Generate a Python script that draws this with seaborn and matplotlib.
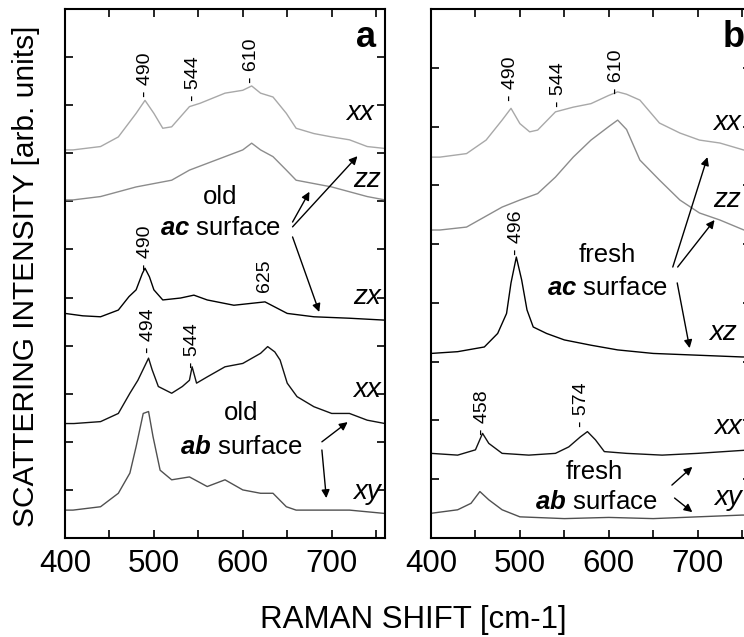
import numpy as np
import pandas as pd
import matplotlib
matplotlib.use('Agg')
import matplotlib.pyplot as plt
import matplotlib.font_manager as fm
import matplotlib.ticker as mticker
import seaborn as sns

# ---- panel a : old surfaces (y in arbitrary offset units, 0..11) ----
a_xx_ac_x = [400, 409, 440, 460, 480, 490, 500, 510, 520, 540, 552, 560, 580, 600, 610, 620, 634, 649, 660, 680, 700, 720, 740, 760]
a_xx_ac_y = [8.07, 8.07, 8.14, 8.34, 8.83, 9.10, 8.83, 8.52, 8.55, 8.97, 9.04, 9.10, 9.25, 9.31, 9.40, 9.25, 9.17, 8.83, 8.52, 8.41, 8.34, 8.28, 8.14, 8.10]

a_zz_ac_x = [400, 409, 440, 460, 480, 500, 520, 540, 560, 580, 600, 610, 620, 634, 649, 660, 680, 700, 720, 740, 760]
a_zz_ac_y = [7.03, 7.03, 7.10, 7.20, 7.30, 7.37, 7.44, 7.65, 7.79, 7.93, 8.07, 8.21, 8.07, 7.93, 7.65, 7.44, 7.37, 7.30, 7.20, 7.10, 7.03]

a_zx_ac_x = [400, 420, 440, 460, 472, 480, 487, 490, 495, 500, 510, 530, 545, 560, 590, 625, 650, 680, 720, 760]
a_zx_ac_y = [4.67, 4.62, 4.60, 4.74, 5.02, 5.16, 5.50, 5.61, 5.43, 5.16, 4.95, 4.99, 5.05, 4.95, 4.84, 4.91, 4.67, 4.60, 4.57, 4.53]

a_xx_ab_x = [400, 410, 440, 460, 473, 482, 494, 498, 505, 520, 532, 540, 543, 548, 560, 580, 600, 620, 628, 636, 642, 650, 661, 680, 700, 720, 740, 760]
a_xx_ab_y = [2.38, 2.38, 2.42, 2.59, 3.01, 3.28, 3.74, 3.50, 3.15, 3.01, 3.15, 3.28, 3.56, 3.22, 3.35, 3.56, 3.63, 3.84, 3.98, 3.87, 3.70, 3.22, 2.94, 2.73, 2.59, 2.59, 2.45, 2.38]

a_xy_ab_x = [400, 409, 440, 460, 473, 480, 488, 494, 499, 507, 520, 540, 560, 580, 600, 620, 634, 649, 660, 680, 700, 720, 760]
a_xy_ab_y = [0.58, 0.58, 0.65, 0.93, 1.35, 1.90, 2.59, 2.63, 2.11, 1.41, 1.21, 1.27, 1.07, 1.21, 1.00, 0.93, 0.93, 0.65, 0.58, 0.58, 0.58, 0.58, 0.51]

# ---- panel b : fresh surfaces (y in arbitrary offset units, 0..9) ----
b_xx_ac_x = [400, 410, 440, 462, 480, 490, 500, 511, 520, 540, 560, 580, 600, 610, 620, 635, 657, 680, 702, 725, 752, 760]
b_xx_ac_y = [6.48, 6.48, 6.54, 6.77, 7.11, 7.31, 7.05, 6.91, 6.94, 7.25, 7.33, 7.39, 7.53, 7.59, 7.55, 7.45, 7.06, 6.89, 6.77, 6.72, 6.60, 6.60]

b_zz_ac_x = [400, 410, 440, 460, 480, 500, 520, 540, 560, 580, 600, 610, 620, 635, 657, 680, 702, 725, 752, 760]
b_zz_ac_y = [5.24, 5.24, 5.29, 5.46, 5.63, 5.75, 5.86, 6.14, 6.48, 6.77, 7.00, 7.11, 6.95, 6.43, 6.09, 5.75, 5.53, 5.41, 5.24, 5.24]

b_xz_ac_x = [400, 430, 460, 475, 485, 490, 496, 502, 508, 515, 530, 550, 580, 610, 650, 700, 750, 760]
b_xz_ac_y = [3.14, 3.17, 3.25, 3.48, 3.82, 4.34, 4.78, 4.39, 3.88, 3.59, 3.48, 3.37, 3.28, 3.20, 3.14, 3.11, 3.08, 3.08]

b_xx_ab_x = [400, 430, 450, 458, 465, 480, 510, 540, 555, 568, 576, 585, 595, 620, 660, 700, 730, 760]
b_xx_ab_y = [1.44, 1.41, 1.50, 1.78, 1.61, 1.44, 1.41, 1.44, 1.55, 1.72, 1.81, 1.67, 1.47, 1.44, 1.41, 1.44, 1.47, 1.50]

b_xy_ab_x = [400, 430, 445, 455, 465, 480, 500, 550, 600, 650, 700, 750, 760]
b_xy_ab_y = [0.42, 0.48, 0.59, 0.79, 0.65, 0.48, 0.36, 0.33, 0.35, 0.33, 0.36, 0.39, 0.39]

# peak labels: (text, x, y of bottom)
a_peaks = [("- 490", 490, 9.18), ("- 544", 544, 9.08), ("- 610", 610, 9.46),
           ("- 490", 490, 5.58), ("625", 625, 5.12),
           ("- 494", 494, 3.85), ("- 544", 543, 3.53)]
b_peaks = [("- 490", 489, 7.43), ("- 544", 543, 7.34), ("- 610", 609, 7.56),
           ("- 496", 496, 4.81), ("- 458", 458, 1.75), ("- 574", 569, 1.88)]

light, mid, dark = '#a8a8a8', '#8c8c8c', '#505050'

sns.set_style('ticks')
plt.rcParams['font.family'] = ['Liberation Sans', 'DejaVu Sans']
plt.rcParams.update({
    'text.color': 'black', 'axes.labelcolor': 'black',
    'xtick.color': 'black', 'ytick.color': 'black',
    'mathtext.fontset': 'custom',
    'mathtext.rm': 'Liberation Sans',
    'mathtext.it': 'Liberation Sans:italic',
    'mathtext.bf': 'Liberation Sans:bold',
    'mathtext.bfit': 'Liberation Sans:italic:bold',
})
names = {f.name for f in fm.fontManager.ttflist}
if 'Liberation Sans Narrow' in names:
    tick_font, tick_size = 'Liberation Sans Narrow', 26
else:
    tick_font, tick_size = 'Liberation Sans', 22.5

fig = plt.figure(figsize=(7.44, 6.37), dpi=100)
ax_a = fig.add_axes([65/744, 99/637, 320/744, 529/637])
ax_b = fig.add_axes([431/744, 99/637, 320/744, 529/637])

def spectrum(ax, x, y, color):
    sns.lineplot(x=x, y=y, ax=ax, color=color, lw=1.0)

spectrum(ax_a, a_xx_ac_x, a_xx_ac_y, light)
spectrum(ax_a, a_zz_ac_x, a_zz_ac_y, mid)
spectrum(ax_a, a_zx_ac_x, a_zx_ac_y, 'black')
spectrum(ax_a, a_xx_ab_x, a_xx_ab_y, '#111111')
spectrum(ax_a, a_xy_ab_x, a_xy_ab_y, dark)

spectrum(ax_b, b_xx_ac_x, b_xx_ac_y, light)
spectrum(ax_b, b_zz_ac_x, b_zz_ac_y, mid)
spectrum(ax_b, b_xz_ac_x, b_xz_ac_y, 'black')
spectrum(ax_b, b_xx_ab_x, b_xx_ab_y, '#111111')
spectrum(ax_b, b_xy_ab_x, b_xy_ab_y, dark)

for ax, ytop in [(ax_a, 11), (ax_b, 9)]:
    ax.set_xlim(400, 760)
    ax.set_ylim(0, ytop)
    ax.xaxis.set_major_locator(mticker.MultipleLocator(100))
    ax.xaxis.set_minor_locator(mticker.MultipleLocator(50))
    ax.yaxis.set_major_locator(mticker.MultipleLocator(1))
    ax.set_yticklabels([])
    ax.tick_params(which='both', direction='in', top=True, right=True,
                   length=6, width=1.2, colors='black')
    ax.tick_params(axis='x', pad=8)
    for lab in ax.get_xticklabels():
        lab.set_fontfamily(tick_font)
        lab.set_fontsize(tick_size)
    for sp in ax.spines.values():
        sp.set_linewidth(1.5)
        sp.set_color('black')
    ax.set_xlabel('')
    ax.set_ylabel('')

def peaks(ax, items):
    for t, x, y in items:
        ax.text(x, y, t, rotation=90, ha='center', va='bottom', fontsize=14)

peaks(ax_a, a_peaks)
peaks(ax_b, b_peaks)

arrow = dict(arrowstyle='-|>', color='black', lw=1.0, mutation_scale=12,
             shrinkA=0, shrinkB=0)

def arr(ax, tail, head):
    ax.annotate('', xy=head, xytext=tail, arrowprops=arrow)

lab = dict(fontsize=20, style='italic', va='center')
txt = dict(fontsize=18.5, ha='center', va='center')

# panel a text
ax_a.text(739, 10.4, 'a', fontsize=26, fontweight='bold', ha='center', va='center')
ax_a.text(748, 8.84, 'xx', ha='right', **lab)
ax_a.text(755, 7.44, 'zz', ha='right', **lab)
ax_a.text(755, 5.01, 'zx', ha='right', **lab)
ax_a.text(755, 3.08, 'xx', ha='right', **lab)
ax_a.text(755, 0.96, 'xy', ha='right', **lab)
ax_a.text(575, 7.09, 'old', **txt)
ax_a.text(575, 6.44, r'$\mathbfit{ac}$ surface', **txt)
ax_a.text(598, 2.60, 'old', **txt)
ax_a.text(598, 1.90, r'$\mathbfit{ab}$ surface', **txt)
arr(ax_a, (656, 6.57), (675, 7.20))
arr(ax_a, (656, 6.47), (729, 7.94))
arr(ax_a, (656, 6.26), (686, 4.70))
arr(ax_a, (689, 2.00), (718, 2.41))
arr(ax_a, (689, 1.83), (694, 0.83))

# panel b text
ax_b.text(728, 8.52, 'b', fontsize=26, fontweight='bold', ha='left', va='center')
ax_b.text(717, 7.06, 'xx', ha='left', **lab)
ax_b.text(717, 5.75, 'zz', ha='left', **lab)
ax_b.text(713, 3.49, 'xz', ha='left', **lab)
ax_b.text(719, 1.89, 'xx', ha='left', **lab)
ax_b.text(719, 0.68, 'xy', ha='left', **lab)
ax_b.text(598, 4.81, 'fresh', **txt)
ax_b.text(599, 4.25, r'$\mathbfit{ac}$ surface', **txt)
ax_b.text(584, 1.12, 'fresh', **txt)
ax_b.text(586, 0.61, r'$\mathbfit{ab}$ surface', **txt)
arr(ax_b, (672, 4.61), (711, 6.48))
arr(ax_b, (677.5, 4.61), (719, 5.41))
arr(ax_b, (677, 4.34), (691, 3.23))
arr(ax_b, (671, 0.90), (694, 1.21))
arr(ax_b, (674, 0.68), (694, 0.44))

fig.text(26/744, (637-276)/637, 'SCATTERING INTENSITY [arb. units]', rotation=90,
         ha='center', va='center', fontsize=21.5)
fig.text(413/744, 9/637, 'RAMAN SHIFT [cm-1]', ha='center', va='baseline',
         fontsize=tick_size, fontfamily=tick_font)

fig.savefig('out.png', dpi=100)
